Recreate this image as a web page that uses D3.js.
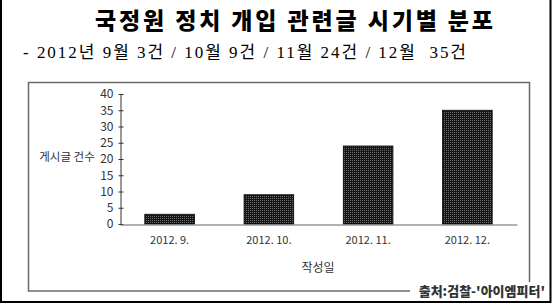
<!DOCTYPE html>
<html>
<head>
<meta charset="utf-8">
<script src="https://cdn.jsdelivr.net/npm/d3@7"></script>
<style>
  html, body { margin: 0; padding: 0; background: #fff; }
  svg { display: block; }
</style>
</head>
<body>
<div id="wrapper"></div>
<script>
const categories = ["2012. 9.", "2012. 10.", "2012. 11.", "2012. 12."];
const counts = [3, 9, 24, 35];
const yTicks = [0, 5, 10, 15, 20, 25, 30, 35, 40];
const titleText = "국정원 정치 개입 관련글 시기별 분포";
const subtitleText = "- 2012년 9월 3건 / 10월 9건 / 11월 24건 / 12월  35건";
const yLabel = "게시글 건수";
const xLabel = "작성일";
const sourceText = "출처:검찰-'아이엠피터'";

const width = 552, height = 305;
const kFont = "'Noto Sans CJK KR', 'DejaVu Sans', sans-serif";

const svg = d3.select("#wrapper").append("svg")
    .attr("width", width)
    .attr("height", height);

// bar texture
const pat = svg.append("defs").append("pattern")
    .attr("id", "dots")
    .attr("width", 2).attr("height", 2)
    .attr("patternUnits", "userSpaceOnUse");
pat.append("rect").attr("width", 2).attr("height", 2).attr("fill", "#161616");
pat.append("rect").attr("width", 1).attr("height", 1).attr("fill", "#6a6a6a");

// outer border (left, bottom, right)
svg.append("path")
    .attr("d", "M1,0 V302 H550.5 V0")
    .attr("fill", "none")
    .attr("stroke", "#000")
    .attr("stroke-width", 2);

// title
svg.append("text")
    .attr("x", 95).attr("y", 29)
    .attr("textLength", 398)
    .attr("lengthAdjust", "spacing")
    .style("font-family", kFont)
    .style("font-weight", "900")
    .style("font-size", "23px")
    .attr("fill", "#000")
    .text(titleText);

svg.append("text")
    .attr("x", 23).attr("y", 58)
    .attr("textLength", 443)
    .attr("lengthAdjust", "spacing")
    .style("white-space", "pre")
    .style("font-family", "'Liberation Serif', 'Noto Sans CJK KR', serif")
    .style("font-size", "17px")
    .attr("fill", "#000")
    .text(subtitleText);

// chart frame
svg.append("rect")
    .attr("x", 28.5).attr("y", 82.5)
    .attr("width", 501).attr("height", 208.5)
    .attr("fill", "none")
    .attr("stroke", "#6a6a6a")
    .attr("stroke-width", 1.5);

const xScale = d3.scaleBand()
    .domain(categories)
    .range([120, 517])
    .paddingInner(0.5)
    .paddingOuter(0.25);

const yScale = d3.scaleLinear()
    .domain([0, 40])
    .range([224, 94]);

// bars
svg.append("g").selectAll("rect")
    .data(counts)
    .join("rect")
    .attr("x", (d, i) => xScale(categories[i]))
    .attr("y", d => yScale(d))
    .attr("width", xScale.bandwidth())
    .attr("height", d => yScale(0) - yScale(d))
    .attr("fill", "url(#dots)")
    .attr("stroke", "#000")
    .attr("stroke-width", 0.8);

// y axis
const yAxis = d3.axisLeft(yScale)
    .tickValues(yTicks)
    .tickSize(0)
    .tickPadding(7);

const yG = svg.append("g")
    .attr("transform", "translate(120.5,0)")
    .call(yAxis);
yG.select(".domain").attr("stroke", "#333");
yG.selectAll(".tick").append("line")
    .attr("x1", -2).attr("x2", 3)
    .attr("stroke", "#333");
yG.selectAll(".tick text")
    .style("font-family", kFont)
    .style("font-size", "12px")
    .attr("fill", "#333");

// x axis
const xAxis = d3.axisBottom(xScale)
    .tickSize(0)
    .tickPadding(12);

const xG = svg.append("g")
    .attr("transform", "translate(0,224.5)")
    .call(xAxis);
xG.select(".domain").attr("stroke", "#666");
xG.selectAll(".tick text")
    .style("font-family", kFont)
    .style("font-size", "11px")
    .attr("fill", "#333");

// axis titles
svg.append("text")
    .attr("x", 67).attr("y", 161)
    .attr("text-anchor", "middle")
    .style("font-family", kFont)
    .style("font-size", "11.5px")
    .attr("fill", "#333")
    .text(yLabel);

svg.append("text")
    .attr("x", 318).attr("y", 272)
    .attr("text-anchor", "middle")
    .style("font-family", kFont)
    .style("font-size", "12px")
    .attr("fill", "#333")
    .text(xLabel);

// source note over the frame corner
svg.append("rect")
    .attr("x", 410).attr("y", 282)
    .attr("width", 138).attr("height", 18)
    .attr("fill", "#fff");

svg.append("text")
    .attr("x", 545).attr("y", 296)
    .attr("text-anchor", "end")
    .style("font-family", kFont)
    .style("font-weight", "900")
    .style("font-size", "13px")
    .attr("fill", "#333")
    .text(sourceText);
</script>
</body>
</html>
